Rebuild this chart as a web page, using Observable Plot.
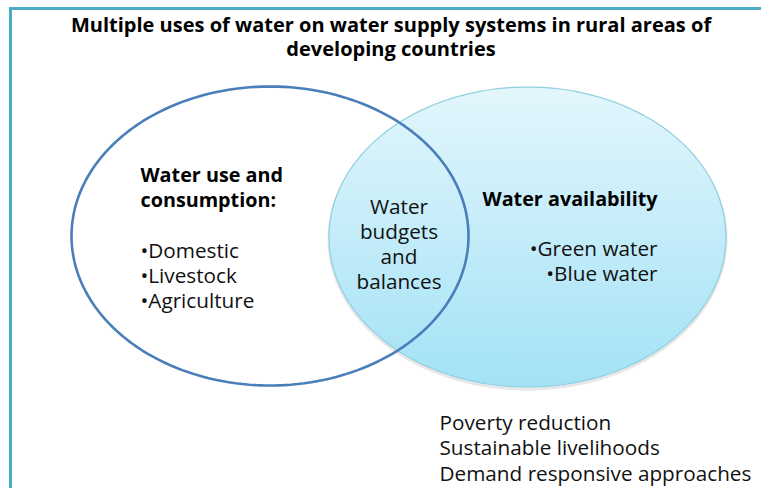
<!DOCTYPE html>
<html><head><meta charset="utf-8">
<script src="https://cdn.jsdelivr.net/npm/d3@7"></script>
<script src="https://cdn.jsdelivr.net/npm/@observablehq/plot@0.6"></script>
<style>
html,body{margin:0;padding:0;background:#fff;}
#wrap{position:relative;width:761px;height:488px;overflow:hidden;}
#frame{position:absolute;left:9px;top:7px;right:-10px;bottom:-10px;border-left:3px solid #4BACC6;border-top:3px solid #4BACC6;}
#chart{position:absolute;left:0;top:0;}
</style></head><body>
<div id="wrap"><div id="frame"></div><div id="chart"></div></div>
<script>
// ---- content ----
const titleLines = ["Multiple uses of water on water supply systems in rural areas of", "developing countries"];
const setNames = ["Water availability", "Water use and consumption"];
const leftHeading = ["Water use and", "consumption:"];
const leftItems = ["•Domestic", "•Livestock", "•Agriculture"];
const overlapLabel = ["Water", "budgets", "and", "balances"];
const rightHeading = ["Water availability"];
const rightItems = ["•Green water", "•Blue water"];
const outcomes = ["Poverty reduction", "Sustainable livelihoods", "Demand responsive approaches"];

// ---- layout (diagram coordinates) ----
const setShapes = [
  {cx: 527, cy: 236.5, rx: 198.5, ry: 150},
  {cx: 269.5, cy: 235.5, rx: 198.5, ry: 149.5}
];
const FAMILY = "'Open Sans'";
const FONT = "'Open Sans', Lato, sans-serif";

// fit font size so a reference line has the width measured on the reference image
const ctx = document.createElement("canvas").getContext("2d");
function fit(text, weight, width) {
  ctx.font = `${weight} 100px ${FAMILY}`;
  return 100 * width / ctx.measureText(text).width;
}
const titleSize = fit(titleLines[0], "bold", 641);
const headSize = (fit(leftHeading[0], "bold", 143) + fit(rightHeading[0], "bold", 174.5)) / 2;
const bodySize = (fit(leftItems[2], "normal", 115) + fit(overlapLabel[3], "normal", 84.5) + fit(rightItems[0], "normal", 128) + fit(outcomes[2], "normal", 311)) / 4;

function outline(name, s) {
  const n = 180, pts = [];
  for (let i = 0; i < n; i++) {
    const t = 2 * Math.PI * i / n;
    pts.push({set: name, x: s.cx + s.rx * Math.cos(t), y: s.cy + s.ry * Math.sin(t)});
  }
  return pts;
}
const rightOutline = outline(setNames[0], setShapes[0]);
const leftOutline = outline(setNames[1], setShapes[1]);

// one multi-line text block; y is the baseline of the LAST line
function block(lines, x, lastBaseline, lead, size, opts) {
  return Plot.text([{t: lines.join("\n"), x, y: lastBaseline}], {
    x: "x", y: "y", text: "t", lineAnchor: "bottom", lineHeight: lead / size, fontSize: size, ...opts
  });
}

const plot = Plot.plot({
  width: 761, height: 488,
  margin: 0,
  x: {domain: [0, 761], axis: null},
  y: {domain: [0, 488], reverse: true, axis: null},
  style: {fontFamily: FONT, background: "transparent", overflow: "visible"},
  marks: [
    Plot.line(rightOutline, {x: "x", y: "y", z: "set", curve: "linear-closed", stroke: "#bbb", strokeWidth: 3, strokeOpacity: 0.35, dy: 2}),
    Plot.line(rightOutline, {x: "x", y: "y", z: "set", curve: "linear-closed", fill: "url(#blueGrad)", stroke: "#8FCFE0", strokeWidth: 1.2}),
    Plot.line(leftOutline, {x: "x", y: "y", z: "set", curve: "linear-closed", fill: "none", stroke: "#4A7EBB", strokeWidth: 2.6}),
    block(titleLines, 390.5, 55, 24, titleSize, {textAnchor: "middle", fontWeight: "bold", fill: "#000"}),
    block(leftHeading, 140, 206, 25, headSize, {textAnchor: "start", fontWeight: "bold", fill: "#000"}),
    block(leftItems, 140, 307, 25, bodySize, {textAnchor: "start", fill: "#111"}),
    block(overlapLabel, 398.5, 288, 25, bodySize, {textAnchor: "middle", fill: "#111"}),
    block(rightHeading, 657, 205, 25, headSize, {textAnchor: "end", fontWeight: "bold", fill: "#000"}),
    block(rightItems, 657, 280, 25, bodySize, {textAnchor: "end", fill: "#111"}),
    block(outcomes, 439, 480, 25.5, bodySize, {textAnchor: "start", fill: "#111"})
  ]
});

const defs = d3.select(plot).insert("defs", ":first-child");
const g = defs.append("linearGradient").attr("id", "blueGrad").attr("x1", 0).attr("y1", 0).attr("x2", 0).attr("y2", 1);
g.append("stop").attr("offset", "0%").attr("stop-color", "#E3F6FC");
g.append("stop").attr("offset", "100%").attr("stop-color", "#A3E2F6");

document.getElementById("chart").appendChild(plot);
</script>
</body></html>
